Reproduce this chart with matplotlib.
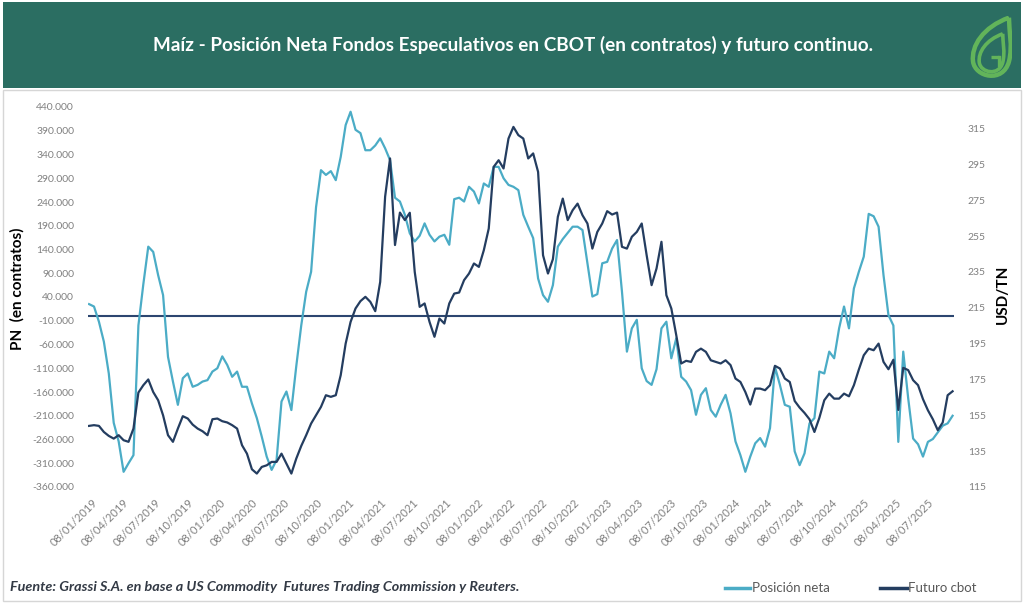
import numpy as np
import pandas as pd
import matplotlib
matplotlib.use("Agg")
import matplotlib.pyplot as plt
from matplotlib.patches import Rectangle, PathPatch
from matplotlib.path import Path
from matplotlib.lines import Line2D
from matplotlib.ticker import FuncFormatter, FixedLocator

plt.rcParams['font.family'] = ['Lato', 'DejaVu Sans']

# net position of speculative funds (thousands of contracts), sampled every 2 weeks
net_pos_k = [
    25, 20, -12, -54, -121, -225, -264, -328, -310, -293,
    -20, 67, 146, 135, 86, 44, -86, -138, -187, -131,
    -121, -149, -145, -138, -135, -117, -110, -85, -103, -128,
    -117, -149, -149, -184, -215, -254, -296, -324, -303, -180,
    -159, -198, -105, -20, 51, 93, 229, 307, 297, 305,
    286, 335, 402, 430, 392, 385, 349, 349, 359, 374,
    353, 328, 249, 241, 213, 174, 157, 169, 195, 171,
    157, 167, 171, 150, 246, 249, 241, 272, 262, 237,
    279, 272, 314, 314, 290, 276, 272, 265, 213, 188,
    164, 79, 44, 30, 65, 146, 162, 175, 188, 188,
    181, 111, 41, 46, 111, 114, 142, 160, 51, -75,
    -26, -8, -110, -137, -145, -112, -26, -12, -89, -47,
    -128, -138, -156, -208, -166, -152, -198, -212, -187, -166,
    -205, -264, -293, -328, -296, -268, -257, -275, -236, -107,
    -145, -187, -191, -285, -314, -289, -226, -215, -117, -121,
    -75, -89, -26, 20, -26, 58, 93, 125, 215, 210,
    188, 86, 2, -20, -265, -75, -173, -258, -270, -296,
    -265, -259, -245, -231, -226, -210,
]

# CBOT continuous corn futures (USD/tn), same dates
futuro = [
    149.1, 149.5, 149.1, 145.7, 143.5, 142.0, 143.9, 141.1, 140.2, 147.6,
    167.7, 171.8, 175.0, 168.0, 163.4, 155.0, 143.9, 140.2, 147.6, 154.5,
    153.2, 149.8, 147.6, 146.1, 143.9, 152.8, 153.2, 151.7, 151.0, 149.5,
    147.6, 138.3, 133.6, 124.9, 122.5, 126.2, 127.1, 129.0, 129.0, 133.6,
    128.1, 122.5, 130.9, 137.9, 143.9, 150.4, 155.0, 159.7, 166.2, 165.3,
    166.2, 177.4, 195.0, 207.1, 214.6, 218.7, 221.1, 218.3, 213.1, 229.4,
    277.0, 298.3, 250.0, 268.1, 263.9, 268.0, 235.0, 215.5, 217.4, 207.1,
    198.8, 209.0, 206.2, 217.4, 222.9, 223.5, 230.4, 234.1, 239.7, 237.8,
    247.1, 259.2, 293.6, 297.3, 292.7, 309.4, 315.9, 311.3, 309.4, 298.3,
    301.1, 290.8, 244.3, 234.1, 242.1, 265.7, 275.9, 263.9, 269.4, 273.1,
    266.6, 262.0, 248.0, 257.3, 262.0, 268.9, 267.0, 268.1, 249.0, 248.0,
    254.6, 257.3, 262.0, 244.3, 227.6, 236.9, 251.8, 222.0, 214.6, 199.7,
    183.9, 185.4, 184.8, 190.4, 192.2, 190.4, 185.7, 184.8, 183.9, 185.7,
    183.0, 175.5, 173.6, 168.0, 161.0, 169.9, 169.9, 169.0, 171.8, 182.6,
    181.1, 175.5, 173.6, 163.0, 159.3, 156.3, 152.8, 145.7, 153.6, 163.4,
    167.1, 164.3, 164.3, 167.1, 165.6, 171.8, 180.5, 188.5, 192.2, 191.3,
    195.0, 184.8, 180.7, 186.0, 158.0, 181.5, 180.2, 174.6, 171.8, 164.0,
    157.8, 152.8, 146.7, 151.0, 166.2, 168.4,
]

dates = pd.date_range("2019-01-01", periods=len(net_pos_k), freq="14D")
net_pos = np.array(net_pos_k) * 1000

left_ticks = list(range(-360000, 440001, 50000))
right_ticks = list(range(115, 316, 20))
x_ticks = pd.date_range("2019-01-08", "2025-07-08", freq=pd.DateOffset(months=3))

title = "Maíz - Posición Neta Fondos Especulativos en CBOT (en contratos) y futuro continuo."
source = "Fuente: Grassi S.A. en base a US Commodity  Futures Trading Commission y Reuters."

c_light = '#4bacc6'
c_dark = '#243d60'
c_header = '#2b6e62'
c_tick = '#808080'

W, H = 1024, 605
fig = plt.figure(figsize=(W / 100, H / 100), dpi=100)

def fx(px):
    return px / W

def fy(py):
    return 1 - py / H

# header band and frame
fig.patches.append(Rectangle((fx(3), fy(88)), fx(1018), 86 / H, transform=fig.transFigure,
                             facecolor=c_header, edgecolor='none', zorder=0))
fig.patches.append(Rectangle((fx(3), fy(601)), fx(1018), 511 / H, transform=fig.transFigure,
                             facecolor='none', edgecolor='#d6d6d6', lw=1, zorder=0))
fig.text(fx(513), fy(45), title, color='white', fontsize=13.6, fontweight='bold',
         ha='center', va='center')

# main chart
ax = fig.add_axes([fx(88), fy(487), fx(954 - 88), 380 / H])
ax.plot(dates, net_pos, color=c_light, lw=1.6, zorder=3)
ax.axhline(0, color='#2c4670', lw=1.5, zorder=2)
ax.set_ylim(-360000, 440000)
ax.set_xlim(pd.Timestamp("2018-12-29"), pd.Timestamp("2025-09-20"))
ax.yaxis.set_major_locator(FixedLocator(left_ticks))
ax.yaxis.set_major_formatter(FuncFormatter(lambda v, p: f"{int(v):,}".replace(",", ".")))
ax.set_xticks(x_ticks)
ax.set_xticklabels([d.strftime("%d/%m/%Y") for d in x_ticks], rotation=45,
                   ha='right', rotation_mode='anchor')

ax2 = ax.twinx()
ax2.plot(dates, futuro, color=c_dark, lw=1.6, zorder=3)
ax2.set_ylim(115, 327)
ax2.yaxis.set_major_locator(FixedLocator(right_ticks))

for a in (ax, ax2):
    for s in a.spines.values():
        s.set_visible(False)
    a.tick_params(length=0, labelsize=7.5, labelcolor=c_tick)
ax.tick_params(axis='y', pad=10)
ax.tick_params(axis='x', pad=7, labelsize=8)
ax2.tick_params(axis='y', pad=10)

fig.text(fx(17), fy(289), "PN  (en contratos)", rotation=90, fontsize=11,
         fontweight='bold', ha='center', va='center', color='black')
fig.text(fx(1003), fy(294), "USD/TN", rotation=90, fontsize=11,
         fontweight='bold', ha='center', va='center', color='black')

# footer and legend
fig.text(fx(10), fy(587), source, fontsize=10.4, fontweight='bold', style='italic',
         color='#333a45', ha='left', va='center')
fig.lines.append(Line2D([fx(725), fx(750)], [fy(588), fy(588)], color=c_light, lw=2.5,
                        transform=fig.transFigure))
fig.text(fx(752), fy(588), "Posición neta", fontsize=9.5, color='#595959', va='center')
fig.lines.append(Line2D([fx(880), fx(907)], [fy(588), fy(588)], color=c_dark, lw=2.5,
                        transform=fig.transFigure))
fig.text(fx(908), fy(588), "Futuro cbot", fontsize=9.5, color='#595959', va='center')

# logo (leaf with G)
lg = fig.add_axes([fx(970), fy(82), fx(42), 66 / H], zorder=10)
lg.set_xlim(0, 1)
lg.set_ylim(0, 1)
lg.axis('off')
leaf_green = '#62b45a'

def leaf(cx, cy, s):
    pts = [(0.95, 1.0), (0.3, 0.85), (0.0, 0.55), (0.05, 0.3),
           (0.1, 0.05), (0.8, -0.05), (0.95, 0.3),
           (1.05, 0.55), (0.95, 0.8), (0.95, 1.0)]
    pts = [(cx + (x - 0.5) * s, cy + (y - 0.5) * s) for x, y in pts]
    codes = [Path.MOVETO] + [Path.CURVE4] * 9
    return Path(pts, codes)

lg.add_patch(PathPatch(leaf(0.5, 0.5, 0.95), facecolor='none', edgecolor=leaf_green, lw=3.2))
lg.add_patch(PathPatch(leaf(0.5, 0.42, 0.62), facecolor='none', edgecolor=leaf_green, lw=2.6))
lg.plot([0.5, 0.68], [0.38, 0.38], color=leaf_green, lw=2.4, solid_capstyle='butt')
lg.plot([0.68, 0.68], [0.38, 0.26], color=leaf_green, lw=2.4)

fig.savefig("out.png", dpi=100)
